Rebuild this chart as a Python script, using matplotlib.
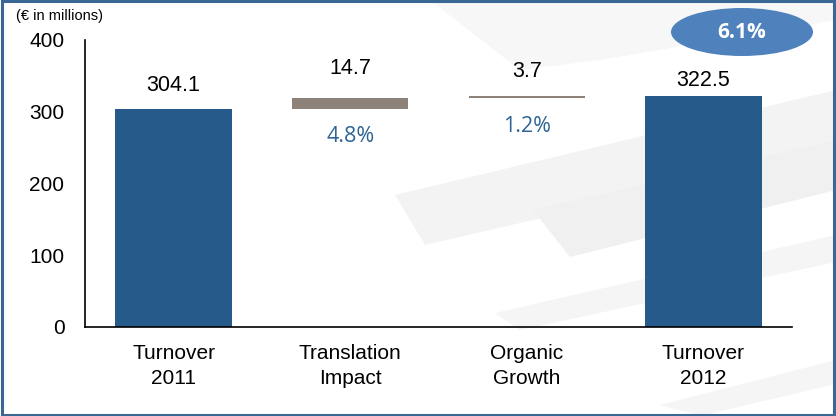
import matplotlib
matplotlib.use('Agg')
import matplotlib.pyplot as plt
from matplotlib.patches import Ellipse, Polygon, Rectangle

# data
categories = ['Turnover\n2011', 'Translation\nImpact', 'Organic\nGrowth', 'Turnover\n2012']
start_total = 304.1
steps = [14.7, 3.7]
end_total = 322.5
step_pcts = ['4.8%', '1.2%']
total_pct = '6.1%'
yticks = [0, 100, 200, 300, 400]

plt.rcParams['font.family'] = ['Liberation Sans', 'DejaVu Sans']

W, H = 836, 416
fig = plt.figure(figsize=(W / 100, H / 100), dpi=100)
fig.patch.set_facecolor('white')


def px(pts):
    # pixel coords -> figure fraction
    return [(x / W, 1 - y / H) for x, y in pts]


# faint background stripes (decoration)
stripes = [
    ([(395, 195), (836, 90), (836, 150), (425, 245)], '#F3F3F3'),
    ([(533, 210), (836, 140), (836, 190), (570, 257)], '#F0F0F0'),
    ([(495, 313), (836, 235), (836, 262), (520, 330)], '#F5F5F5'),
    ([(430, 0), (836, 0), (836, 20), (600, 60), (520, 70)], '#F7F7F7'),
    ([(660, 405), (836, 360), (836, 384), (700, 416)], '#F5F5F5'),
]
for pts, c in stripes:
    fig.patches.append(Polygon(px(pts), closed=True, transform=fig.transFigure,
                               facecolor=c, edgecolor='none', zorder=-2))

ax = fig.add_axes([0.102, 0.214, 0.845, 0.69])
ax.set_zorder(1)
ax.patch.set_alpha(0)

blue = '#255A8A'
grey = '#8C8279'
bw = 0.66

ax.bar(0, start_total, width=bw, color=blue)
ax.bar(3, end_total, width=bw, color=blue)
bottom = start_total
for i, s in enumerate(steps):
    ax.bar(i + 1, s, bottom=bottom, width=bw, color=grey)
    bottom += s

# value labels
ax.text(0, start_total + 18, f'{start_total}', ha='center', va='bottom', fontsize=15.5)
ax.text(3, end_total + 6, f'{end_total}', ha='center', va='bottom', fontsize=15.5)
ax.text(1, start_total + steps[0] + 27, f'{steps[0]}', ha='center', va='bottom', fontsize=15.5)
ax.text(2, start_total + sum(steps) + 19, f'{steps[1]}', ha='center', va='bottom', fontsize=15.5)

pct_color = '#2E6496'
ax.text(1, start_total - 24, step_pcts[0], ha='center', va='top', fontsize=15.5,
        color=pct_color, family=['Open Sans', 'DejaVu Sans'])
ax.text(2, start_total + sum(steps) - 28, step_pcts[1], ha='center', va='top', fontsize=15.5,
        color=pct_color, family=['Open Sans', 'DejaVu Sans'])

ax.set_xlim(-0.5, 3.5)
ax.set_ylim(0, 400)
ax.set_yticks(yticks)
ax.set_xticks(range(len(categories)))
ax.set_xticklabels(categories, fontsize=15, linespacing=1.45)
ax.tick_params(axis='y', length=0, labelsize=15, pad=15)
ax.tick_params(axis='x', length=0, pad=12)
for sp in ['top', 'right']:
    ax.spines[sp].set_visible(False)
ax.spines['left'].set_linewidth(1.2)
ax.spines['bottom'].set_linewidth(1.2)

# total growth ellipse
fig.patches.append(Ellipse((742 / W, 1 - 32 / H), 142 / W, 48 / H,
                           transform=fig.transFigure, facecolor='#4F81BD',
                           edgecolor='none', zorder=3))
fig.text(742 / W, 1 - 33 / H, total_pct, ha='center', va='center', color='white',
         fontsize=15, fontweight='bold', family=['Open Sans', 'DejaVu Sans'], zorder=4)

fig.text(16 / W, 1 - 16 / H, '(€ in millions)', ha='left', va='center', fontsize=10.5)

# blue frame
fig.patches.append(Rectangle((0.002, 0.003), 0.996, 0.994, transform=fig.transFigure,
                             fill=False, edgecolor='#3A6794', linewidth=2.2, zorder=5))

fig.savefig('out.png', dpi=100)
